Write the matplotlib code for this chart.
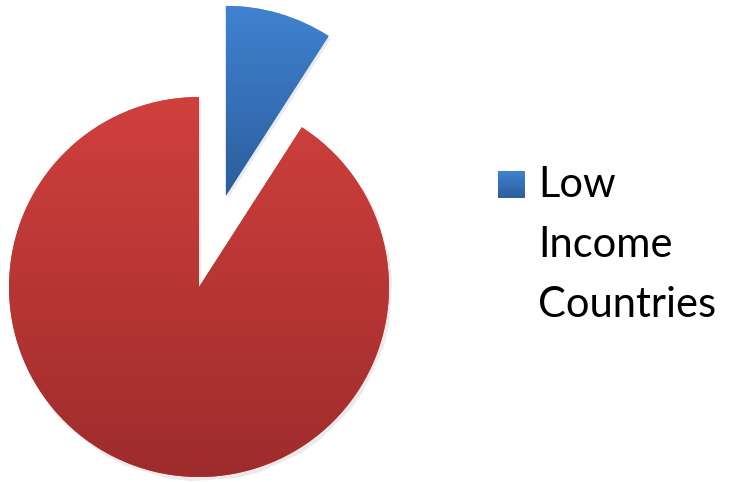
import matplotlib.pyplot as plt
import numpy as np
from matplotlib.colors import LinearSegmentedColormap
from matplotlib.patches import Rectangle

# ====== データ ======
labels = ['Low Income Countries', 'Other Countries']
shares = [9.1, 90.9]
explode = [0.5, 0.0]          # 半径に対する割合
legend_labels = ['Low\nIncome\nCountries']

# グラデーション（上→下）
grad_colors = [('#4082d0', '#2c5e9c'), ('#d0403d', '#9e2c2c')]

W, H = 729, 482
fig = plt.figure(figsize=(W / 100, H / 100), dpi=100)
ax = fig.add_axes([0, 0, 1, 1])

R = 190
center = (199, H - 287)
# matplotlib の explode は絶対値なので半径を掛ける
wedges, _ = ax.pie(shares, explode=[e * R for e in explode], startangle=90,
                   counterclock=False, radius=R, center=center,
                   colors=[c[0] for c in grad_colors], frame=True)

# ====== 各スライスを縦グラデーションで塗る ======
for w, (top, bottom) in zip(wedges, grad_colors):
    ext = w.get_path().get_extents()
    cmap = LinearSegmentedColormap.from_list('g', [bottom, top])
    grad = np.linspace(0, 1, 256).reshape(-1, 1)
    # うすい影
    sh = plt.Polygon(w.get_path().vertices + np.array([2, -3]), closed=True,
                     facecolor='#000000', alpha=0.08, edgecolor='none', zorder=0.5)
    ax.add_patch(sh)
    im = ax.imshow(grad, cmap=cmap, origin='lower', aspect='auto',
                   extent=[ext.x0, ext.x1, ext.y0, ext.y1], zorder=2)
    im.set_clip_path(w)
    w.set_edgecolor('none')

# ====== 凡例 ======
lx, ly, size = 498, H - 198, 27
top, bottom = grad_colors[0]
cmap = LinearSegmentedColormap.from_list('g', [bottom, top])
box = Rectangle((lx, ly), size, size, facecolor=top, edgecolor='none')
ax.add_patch(box)
im = ax.imshow(np.linspace(0, 1, 64).reshape(-1, 1), cmap=cmap, origin='lower',
               aspect='auto', extent=[lx, lx + size, ly, ly + size], zorder=3)
im.set_clip_path(box)

for i, line in enumerate(legend_labels[0].split('\n')):
    ax.text(538, H - 197 - 60 * i, line, fontsize=30, family='Lato',
            va='baseline', ha='left')

ax.set_xlim(0, W)
ax.set_ylim(0, H)
ax.set_aspect('equal')
ax.axis('off')

fig.savefig('out.png', dpi=100)
